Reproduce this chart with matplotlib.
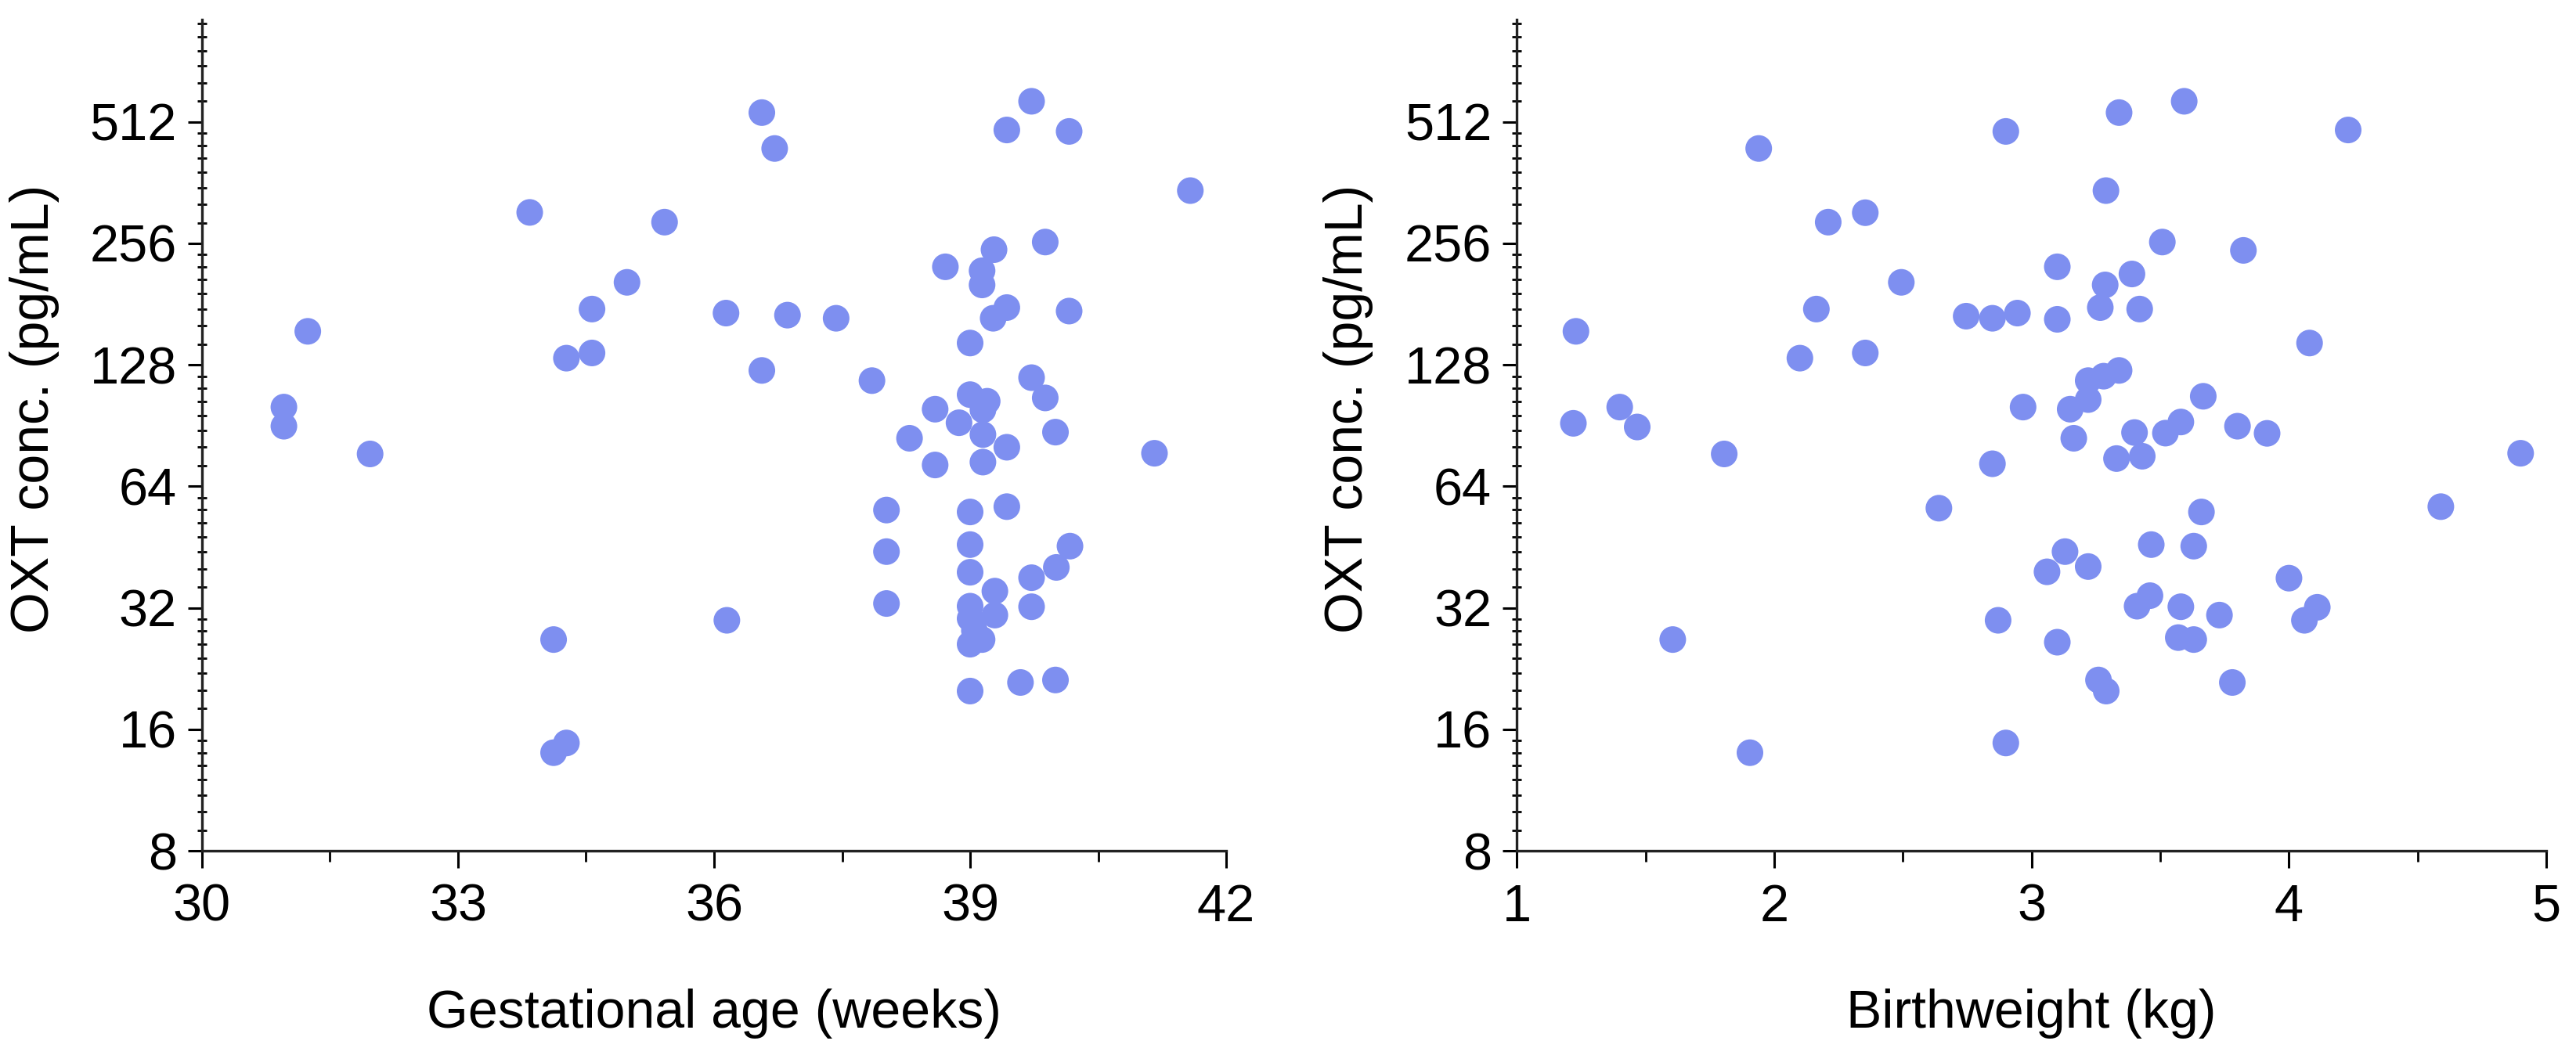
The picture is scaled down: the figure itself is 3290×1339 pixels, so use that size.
import numpy as np
import matplotlib.pyplot as plt
from matplotlib.ticker import FixedLocator, NullFormatter

plt.rcParams['font.family'] = ['Liberation Sans', 'DejaVu Sans']

# Panel A: gestational age (weeks) vs OXT conc.
ga_weeks = [36.56, 36.71, 39.72, 39.43, 40.16, 41.58, 35.42, 34.98, 34.57, 34.57,
            34.27, 36.14, 36.86, 37.43, 36.56, 37.85, 38.71, 39.28, 39.88, 39.14,
            39.14, 39.43, 39.27, 40.16, 39.00, 39.72, 39.88, 39.00, 39.20, 39.15,
            38.59, 40.00, 38.29, 38.87, 39.15, 38.59, 39.15, 39.43, 41.16, 38.02,
            39.00, 39.43, 38.02, 39.00, 40.17, 40.01, 39.72, 39.00, 38.02, 39.29,
            39.29, 39.72, 39.00, 39.00, 39.05, 39.14, 39.00, 36.15, 39.00, 39.59,
            40.00, 34.12, 34.12, 34.27, 33.84, 31.24, 30.96, 30.96, 31.97]
oxt_ga = [540, 440, 576, 489, 485, 346, 289, 205, 176, 137,
          133, 172, 170, 167, 124, 117, 224, 247, 258, 219,
          202, 177.5, 167, 174, 145, 119, 106, 108, 104, 99,
          99.4, 87.2, 84.2, 92, 86, 72.3, 73.5, 80, 77.3, 55.9,
          55.3, 57, 44.1, 45.9, 45.5, 40.3, 38.0, 39.2, 32.8, 35.2,
          30.7, 32.2, 32.3, 30.1, 28.1, 26.7, 26.0, 29.8, 19.9, 20.9,
          21.2, 26.7, 14.0, 14.8, 305.5, 155, 100.6, 90.2, 77]

# Panel B: birthweight (kg) vs OXT conc.
bw_kg = [1.94, 2.21, 2.354, 2.494, 2.164, 2.10, 2.354, 1.23, 1.22, 1.40,
         1.468, 1.806, 2.64, 1.606, 1.906, 2.90, 3.34, 3.593, 4.23, 3.289,
         3.508, 3.823, 3.10, 3.39, 3.286, 2.746, 2.848, 2.945, 3.10, 3.267,
         3.42, 4.08, 3.34, 3.28, 3.22, 3.22, 3.15, 3.667, 2.967, 3.164,
         3.52, 3.58, 3.80, 3.915, 3.40, 3.33, 3.43, 2.848, 4.90, 3.66,
         4.59, 3.13, 3.465, 3.63, 3.06, 3.22, 4.00, 3.41, 3.46, 3.58,
         3.73, 4.06, 4.11, 2.87, 3.10, 3.57, 3.63, 3.26, 3.29, 3.78, 2.90]
oxt_bw = [440, 289, 305, 205, 176, 133, 137, 155, 91.7, 100.6,
          89.8, 77, 56.5, 26.7, 14.0, 485, 540, 576, 489, 346,
          258, 246, 224, 215, 202, 169, 167, 172, 166, 177.5,
          176, 145, 124, 120, 117, 105, 99.4, 107, 100.6, 84.2,
          86.7, 92.4, 90.2, 86.6, 87, 75, 76, 72.8, 77.3, 55.3,
          57, 44.1, 45.9, 45.5, 39.3, 40.5, 37.9, 32.3, 34.3, 32.2,
          30.7, 29.8, 32.1, 29.8, 26.3, 27.0, 26.7, 21.2, 19.9, 20.9, 14.8]

y_ticks = [8, 16, 32, 64, 128, 256, 512]
dot_color = '#7e8ff0'

fig = plt.figure(figsize=(32.9, 13.39), dpi=100)
ax1 = fig.add_axes([0.0784, 0.1882, 0.3976, 0.7931])
ax2 = fig.add_axes([0.5888, 0.1882, 0.3997, 0.7931])

panels = [
    (ax1, ga_weeks, oxt_ga, (30, 42), [30, 33, 36, 39, 42], 1.5, "Gestational age (weeks)"),
    (ax2, bw_kg, oxt_bw, (1, 5), [1, 2, 3, 4, 5], 0.5, "Birthweight (kg)"),
]

# minor ticks: 8 linear steps within each doubling
minor = [b * (1 + k / 8) for b in [4, 8, 16, 32, 64, 128, 256, 512] for k in range(1, 8)]

for ax, xs, ys, xlim, xticks, xminor, xlabel in panels:
    ax.scatter(xs, ys, s=600, color=dot_color, edgecolors='none', zorder=3)
    ax.set_yscale('log', base=2)
    ax.set_ylim(8, 918)
    ax.set_xlim(*xlim)
    ax.yaxis.set_major_locator(FixedLocator(y_ticks))
    ax.yaxis.set_minor_locator(FixedLocator(minor))
    ax.yaxis.set_minor_formatter(NullFormatter())
    ax.set_yticklabels([str(t) for t in y_ticks])
    ax.set_xticks(xticks)
    ax.set_xticklabels([str(t) for t in xticks])
    ax.xaxis.set_minor_locator(FixedLocator(np.arange(xlim[0], xlim[1], xminor)))

    for side in ['top', 'right']:
        ax.spines[side].set_visible(False)
    for side in ['left', 'bottom']:
        ax.spines[side].set_linewidth(2.4)
        ax.spines[side].set_color('#222222')

    ax.tick_params(axis='y', which='major', direction='out', length=13, width=2.2,
                   labelsize=48, pad=10)
    ax.tick_params(axis='y', which='minor', direction='inout', length=9, width=2.0)
    ax.tick_params(axis='x', which='major', direction='out', length=16, width=2.2,
                   labelsize=48, pad=14)
    ax.tick_params(axis='x', which='minor', direction='out', length=10, width=2.0)

    ax.set_xlabel(xlabel, fontsize=49)
    ax.set_ylabel("OXT conc. (pg/mL)", fontsize=49)
    ax.yaxis.set_label_coords(-0.139, 0.532)
    ax.xaxis.set_label_coords(0.5, -0.166)

fig.savefig("out.png", dpi=100, facecolor='white')
